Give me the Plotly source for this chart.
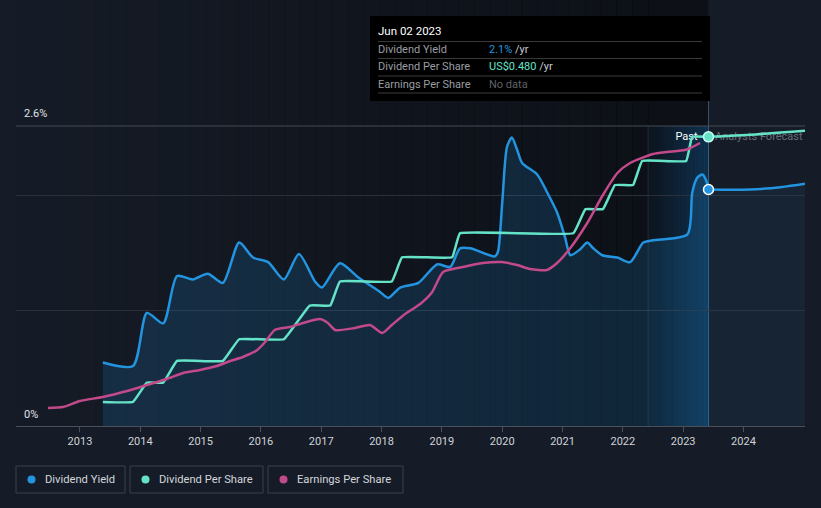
import plotly.graph_objects as go

# ---------------- data ----------------
yield_years = [2013.38, 2013.88, 2014.11, 2014.38, 2014.61, 2014.87, 2015.12, 2015.37, 2015.64, 2015.87,
               2016.12, 2016.38, 2016.63, 2016.90, 2017.01, 2017.31, 2017.61, 2017.98, 2018.11, 2018.31,
               2018.61, 2018.92, 2019.14, 2019.30, 2019.47, 2019.88, 2019.93, 2020.00, 2020.08, 2020.16,
               2020.25, 2020.33, 2020.58, 2020.74, 2020.91, 2021.04, 2021.13, 2021.29, 2021.41, 2021.51,
               2021.66, 2021.91, 2022.12, 2022.34, 2022.50, 2023.07, 2023.15, 2023.23, 2023.32, 2023.38, 2023.42]
yield_pct = [0.55, 0.52, 0.98, 0.89, 1.30, 1.27, 1.32, 1.24, 1.59, 1.46,
             1.42, 1.27, 1.49, 1.25, 1.20, 1.41, 1.29, 1.16, 1.11, 1.20,
             1.24, 1.40, 1.38, 1.54, 1.54, 1.47, 1.51, 1.93, 2.42, 2.50,
             2.39, 2.28, 2.18, 2.03, 1.85, 1.64, 1.48, 1.53, 1.59, 1.54,
             1.48, 1.46, 1.42, 1.59, 1.61, 1.66, 2.02, 2.15, 2.18, 2.13, 2.05]
yield_fc_years = [2023.42, 2024.11, 2024.61, 2025.02]
yield_fc_pct = [2.05, 2.05, 2.07, 2.10]

dps_years = [2013.38, 2013.88, 2014.11, 2014.38, 2014.61, 2015.37, 2015.64, 2016.38, 2016.81,
             2017.15, 2017.31, 2018.17, 2018.34, 2019.17, 2019.30, 2021.18, 2021.38, 2021.67, 2021.87,
             2022.17, 2022.32, 2023.05, 2023.15, 2023.42]
dps_vals = [0.04, 0.04, 0.072, 0.072, 0.108, 0.108, 0.144, 0.144, 0.20,
            0.20, 0.24, 0.24, 0.28, 0.28, 0.32, 0.32, 0.36, 0.36, 0.40,
            0.40, 0.44, 0.44, 0.48, 0.48]
dps_fc_years = [2023.42, 2024.2, 2025.02]
dps_fc_vals = [0.48, 0.484, 0.49]

eps_years = [2012.47, 2012.72, 2013.00, 2013.38, 2013.78, 2014.11, 2014.44, 2014.71, 2014.99, 2015.27,
             2015.49, 2015.70, 2015.94, 2016.07, 2016.23, 2016.48, 2016.70, 2016.98, 2017.11, 2017.23,
             2017.56, 2017.81, 2018.01, 2018.17, 2018.39, 2018.64, 2018.84, 2019.02, 2019.35, 2019.68,
             2019.99, 2020.25, 2020.46, 2020.74, 2020.91, 2021.13, 2021.41, 2021.67, 2021.91, 2022.12,
             2022.50, 2022.73, 2023.03, 2023.15, 2023.28]
eps_vals = [0.18, 0.19, 0.25, 0.29, 0.35, 0.41, 0.47, 0.53, 0.56, 0.60,
            0.65, 0.69, 0.76, 0.84, 0.96, 0.99, 1.03, 1.07, 1.03, 0.96,
            0.98, 1.01, 0.93, 1.01, 1.12, 1.22, 1.34, 1.54, 1.59, 1.63,
            1.64, 1.61, 1.57, 1.56, 1.63, 1.78, 2.03, 2.31, 2.53, 2.63,
            2.72, 2.74, 2.76, 2.79, 2.83]

tick_years = list(range(2013, 2025))
tick_labels = [str(y) for y in tick_years]

x_min, x_max = 2011.94, 2025.02
now_x = 2023.42
band_x = 2022.42

BLUE = "#2394df"
TEAL = "#64e3c8"
MAG = "#c2498a"
BG = "#161c27"

W, H = 821, 508
ML, MR, MT, MB = 16, 16, 126, 82


def px_x(p):
    return (p - ML) / (W - ML - MR)


def px_y(p):
    return (H - MB - p) / (H - MT - MB)


fig = go.Figure()

# forecast/past text (clipped by plot area), drawn first so lines go over
fig.add_trace(go.Scatter(x=[2023.53], y=[2.50], mode="text", text=["Analysts Forecast"],
                         textposition="middle right", textfont=dict(color="#666d77", size=11, family="Roboto"),
                         hoverinfo="skip", showlegend=False, cliponaxis=True))
fig.add_trace(go.Scatter(x=[2023.24], y=[2.50], mode="text", text=["Past"],
                         textposition="middle left", textfont=dict(color="#ffffff", size=11, family="Roboto"),
                         hoverinfo="skip", showlegend=False, cliponaxis=True))

# yield fills
fig.add_trace(go.Scatter(x=yield_years, y=yield_pct, mode="lines", line=dict(width=0, shape="spline", smoothing=0.7),
                         fill="tozeroy", fillcolor="rgba(35,148,223,0.17)", hoverinfo="skip", showlegend=False))
fig.add_trace(go.Scatter(x=yield_fc_years, y=yield_fc_pct, mode="lines", line=dict(width=0, shape="spline"),
                         fill="tozeroy", fillcolor="rgba(35,148,223,0.07)", hoverinfo="skip", showlegend=False))

# EPS
fig.add_trace(go.Scatter(x=eps_years, y=eps_vals, yaxis="y3", mode="lines",
                         line=dict(color=MAG, width=2.5, shape="spline", smoothing=0.6),
                         name="Earnings Per Share", showlegend=False))
# DPS
fig.add_trace(go.Scatter(x=dps_years, y=dps_vals, yaxis="y2", mode="lines",
                         line=dict(color=TEAL, width=2.5, shape="spline", smoothing=0.25),
                         name="Dividend Per Share", showlegend=False))
fig.add_trace(go.Scatter(x=dps_fc_years, y=dps_fc_vals, yaxis="y2", mode="lines",
                         line=dict(color=TEAL, width=2.5, shape="spline"), showlegend=False))
# Yield
fig.add_trace(go.Scatter(x=yield_years, y=yield_pct, mode="lines",
                         line=dict(color=BLUE, width=2.5, shape="spline", smoothing=0.7),
                         name="Dividend Yield", showlegend=False))
fig.add_trace(go.Scatter(x=yield_fc_years, y=yield_fc_pct, mode="lines",
                         line=dict(color=BLUE, width=2.5, shape="spline"), showlegend=False))
# markers
fig.add_trace(go.Scatter(x=[yield_fc_years[0]], y=[yield_fc_pct[0]], mode="markers",
                         marker=dict(color=BLUE, size=10, line=dict(color="#ffffff", width=1.5)), showlegend=False))
fig.add_trace(go.Scatter(x=[dps_fc_years[0]], y=[dps_fc_vals[0]], yaxis="y2", mode="markers",
                         marker=dict(color=TEAL, size=10, line=dict(color="#c8fff2", width=1.5)), showlegend=False))

shapes = []
# dark gradient on past region
N = 40
step = (band_x - x_min) / N
for i in range(N):
    a = 0.40 * (i + 0.5) / N
    shapes.append(dict(type="rect", xref="x", yref="paper", x0=x_min + i * step, x1=x_min + (i + 1) * step + 0.01,
                       y0=0, y1=px_y(0), fillcolor=f"rgba(0,0,0,{a:.3f})", line=dict(width=0), layer="below"))
shapes.append(dict(type="rect", xref="x", yref="paper", x0=band_x, x1=now_x,
                   y0=0, y1=px_y(0), fillcolor="rgba(0,0,0,0.40)", line=dict(width=0), layer="below"))
# blue highlight band for last year
M = 14
bstep = (now_x - band_x) / M
for i in range(M):
    a = 0.04 + 0.30 * (i + 0.5) / M
    shapes.append(dict(type="rect", xref="x", yref="paper", x0=band_x + i * bstep, x1=band_x + (i + 1) * bstep + 0.005,
                       y0=0, y1=1, fillcolor=f"rgba(20,110,180,{a:.3f})", line=dict(width=0), layer="below"))
# band edge lines
shapes.append(dict(type="line", xref="x", yref="paper", x0=band_x, x1=band_x, y0=0, y1=1,
                   line=dict(color="rgba(70,100,130,0.35)", width=1), layer="below"))
shapes.append(dict(type="line", xref="x", yref="paper", x0=now_x, x1=now_x, y0=0, y1=px_y(101),
                   line=dict(color="rgba(110,150,190,0.45)", width=1), layer="below"))
# top line at 2.6%
shapes.append(dict(type="line", xref="paper", yref="paper", x0=0, x1=1, y0=1, y1=1,
                   line=dict(color="#454b55", width=1), layer="below"))

# tooltip box
shapes.append(dict(type="rect", xref="paper", yref="paper", x0=px_x(370), x1=px_x(710), y0=px_y(101), y1=px_y(16),
                   fillcolor="#000000", line=dict(width=0), layer="above"))
for yy in [41.5, 58.5, 76, 93]:
    shapes.append(dict(type="line", xref="paper", yref="paper", x0=px_x(378), x1=px_x(702), y0=px_y(yy), y1=px_y(yy),
                       line=dict(color="#3a3a3a", width=1), layer="above"))

annotations = []


def ann(text, xp, yp, color, size=11, xanchor="left"):
    annotations.append(dict(text=text, x=px_x(xp), y=px_y(yp), xref="paper", yref="paper",
                            xanchor=xanchor, yanchor="middle", showarrow=False,
                            font=dict(color=color, size=size, family="Roboto")))


ann("Jun 02 2023", 376, 31, "#ffffff", 11.5)
ann("Dividend Yield", 376, 49.5, "#9a9da3")
ann("Dividend Per Share", 376, 66.5, "#9a9da3")
ann("Earnings Per Share", 376, 84.5, "#9a9da3")
ann(f'<span style="color:{BLUE}">2.1%</span> /yr', 487, 49.5, "#c8cbd0")
ann(f'<span style="color:{TEAL}">US$0.480</span> /yr', 487, 66.5, "#c8cbd0")
ann("No data", 487, 84.5, "#5e6168")

# y labels
ann("2.6%", 22, 114, "#e0e2e6")
ann("0%", 22, 414, "#e0e2e6")

# legend boxes
legend_items = [("Dividend Yield", BLUE, 16, 125), ("Dividend Per Share", TEAL, 130, 263),
                ("Earnings Per Share", MAG, 268, 403)]
for label, col, x0, x1 in legend_items:
    shapes.append(dict(type="rect", xref="paper", yref="paper", x0=px_x(x0), x1=px_x(x1), y0=px_y(493), y1=px_y(466),
                       fillcolor="rgba(0,0,0,0)", line=dict(color="#3b414c", width=1), layer="above"))
    shapes.append(dict(type="circle", xref="paper", yref="paper", x0=px_x(x0 + 11.5), x1=px_x(x0 + 19.5),
                       y0=px_y(483.5), y1=px_y(475.5), fillcolor=col, line=dict(width=0), layer="above"))
    ann(label, x0 + 27, 479.5, "#d3d6db", 11.2)

fig.update_layout(
    width=W, height=H,
    margin=dict(l=ML, r=MR, t=MT, b=MB, pad=0),
    paper_bgcolor=BG, plot_bgcolor=BG,
    showlegend=False,
    font=dict(family="Roboto", color="#d0d3d8"),
    shapes=shapes, annotations=annotations,
    xaxis=dict(range=[x_min, x_max], tickvals=tick_years, ticktext=tick_labels, showgrid=False, zeroline=False,
               showline=True, linecolor="#4a505a", linewidth=1, ticks="outside", ticklen=5, tickcolor="#4a505a",
               tickfont=dict(size=11, color="#d0d3d8"), fixedrange=True),
    yaxis=dict(range=[0, 2.6], tickvals=[1, 2], showticklabels=False, showgrid=True, gridcolor="#2a303a",
               zeroline=False, fixedrange=True),
    yaxis2=dict(range=[0, 0.498], overlaying="y", visible=False, fixedrange=True),
    yaxis3=dict(range=[0, 3.0], overlaying="y", visible=False, fixedrange=True),
)

fig.write_html("out.html", config={"displayModeBar": False},
               post_script="document.body.style.margin='0';document.body.style.overflow='hidden';"
                           "document.body.style.background='" + BG + "';")
